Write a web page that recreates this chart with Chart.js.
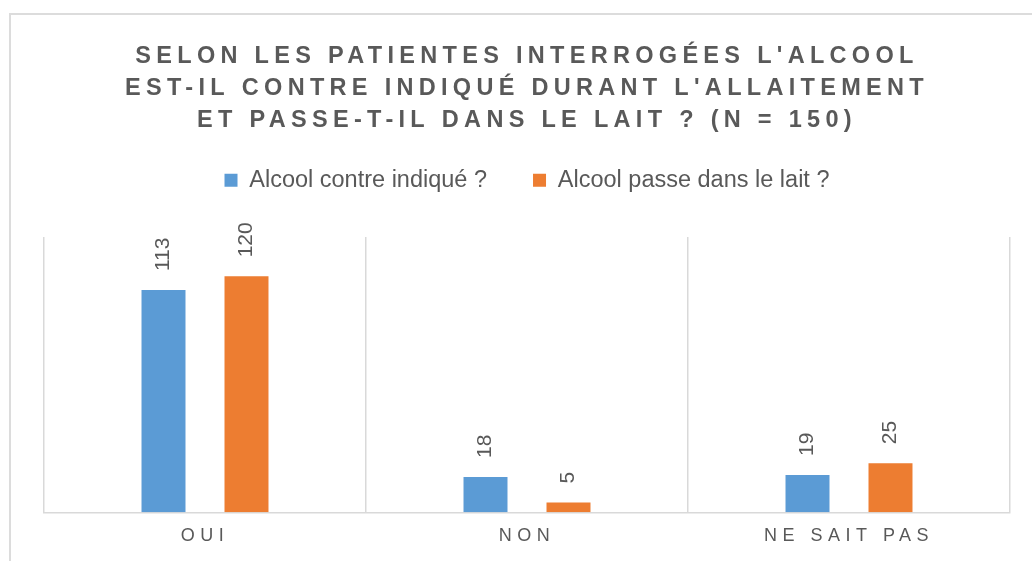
<!DOCTYPE html>
<html>
<head>
<meta charset="utf-8">
<script src="https://cdn.jsdelivr.net/npm/chart.js@4.4.0/dist/chart.umd.min.js"></script>
<style>
html,body{margin:0;padding:0;background:#fff;overflow:hidden;width:1032px;height:561px;}
#frame{position:absolute;left:9px;top:13px;width:1100px;height:600px;border-left:2px solid #dcdcdc;border-top:2px solid #dcdcdc;}
#wrap{position:absolute;left:0;top:0;width:1032px;height:561px;}
</style>
</head>
<body>
<div id="frame"></div>
<div id="wrap"><canvas id="c" width="1032" height="561"></canvas></div>
<script>
// ---- data ----
const titleLines = [
  "SELON LES PATIENTES INTERROGÉES L'ALCOOL",
  "EST-IL CONTRE INDIQUÉ DURANT L'ALLAITEMENT",
  "ET PASSE-T-IL DANS LE LAIT ? (N = 150)"
];
const categories = ['OUI', 'NON', 'NE SAIT PAS'];
const seriesNames = ['Alcool contre indiqué ?', 'Alcool passe dans le lait ?'];
const contreIndique = [113, 18, 19];
const passeLait = [120, 5, 25];
const yMin = 0;
const yMax = 140;

// ---- styles ----
const FONT = '"Liberation Sans", Arial, sans-serif';
const TEXT_COLOR = '#595959';
const TITLE_SPACING = 5.3;
const XLABEL_SPACING = 5.5;
const LEGEND_HEIGHT = 114.5;
const LABEL_GAP = 19;

const spacingPlugin = {
  id: 'spacingPlugin',
  beforeLayout(chart) {
    const lg = chart.legend;
    if (lg && !lg.__fixed) {
      lg.__fixed = true;
      const f = lg.fit;
      lg.fit = function () { f.apply(this, arguments); this.height = LEGEND_HEIGHT; };
    }
  },
  beforeDraw(chart) {
    const tb = chart.titleBlock;
    if (tb && !tb.__sp) {
      tb.__sp = true;
      const d = tb.draw;
      tb.draw = function () {
        const ctx = this.ctx; ctx.save(); ctx.letterSpacing = TITLE_SPACING + 'px';
        d.apply(this, arguments); ctx.restore();
      };
    }
    const xs = chart.scales.x;
    if (xs && !xs.__sp) {
      xs.__sp = true;
      const dl = xs.drawLabels;
      xs.drawLabels = function () {
        const ctx = this.ctx; ctx.save(); ctx.letterSpacing = XLABEL_SPACING + 'px';
        dl.apply(this, arguments); ctx.restore();
      };
    }
  }
};

const valueLabels = {
  id: 'valueLabels',
  afterDatasetsDraw(chart) {
    const ctx = chart.ctx;
    chart.data.datasets.forEach((ds, di) => {
      const meta = chart.getDatasetMeta(di);
      meta.data.forEach((bar, i) => {
        ctx.save();
        ctx.translate(bar.x, bar.y - LABEL_GAP);
        ctx.rotate(-Math.PI / 2);
        ctx.font = '21px ' + FONT;
        ctx.fillStyle = TEXT_COLOR;
        ctx.textAlign = 'left';
        ctx.textBaseline = 'middle';
        ctx.fillText(String(ds.data[i]), 0, 0);
        ctx.restore();
      });
    });
  }
};

new Chart(document.getElementById('c'), {
  type: 'bar',
  data: {
    labels: categories,
    datasets: [
      { label: seriesNames[0], data: contreIndique, backgroundColor: '#5B9BD5', borderWidth: 0,
        categoryPercentage: 0.5155, barPercentage: 0.53 },
      { label: seriesNames[1], data: passeLait, backgroundColor: '#ED7D31', borderWidth: 0,
        categoryPercentage: 0.5155, barPercentage: 0.53 }
    ]
  },
  options: {
    responsive: false,
    animation: false,
    devicePixelRatio: 1,
    layout: { padding: { left: 44, right: 22, top: 0, bottom: 1.7 } },
    plugins: {
      title: {
        display: true, text: titleLines, color: TEXT_COLOR,
        font: { family: FONT, size: 23.5, weight: 'bold', lineHeight: 1.362 },
        padding: { top: 40.5, bottom: -14 }
      },
      legend: {
        display: true, position: 'top',
        labels: { color: TEXT_COLOR, font: { family: FONT, size: 23.5 }, boxWidth: 13, boxHeight: 13, padding: 46 }
      },
      tooltip: { enabled: false }
    },
    scales: {
      x: {
        grid: { display: true, color: '#d9d9d9', lineWidth: 1.5, drawTicks: false, offset: true },
        border: { display: true, color: '#d9d9d9', width: 1.5 },
        ticks: { color: TEXT_COLOR, font: { family: FONT, size: 18 }, padding: 12.7, maxRotation: 0, autoSkip: false }
      },
      y: { display: false, min: yMin, max: yMax }
    }
  },
  plugins: [spacingPlugin, valueLabels]
});
</script>
</body>
</html>
